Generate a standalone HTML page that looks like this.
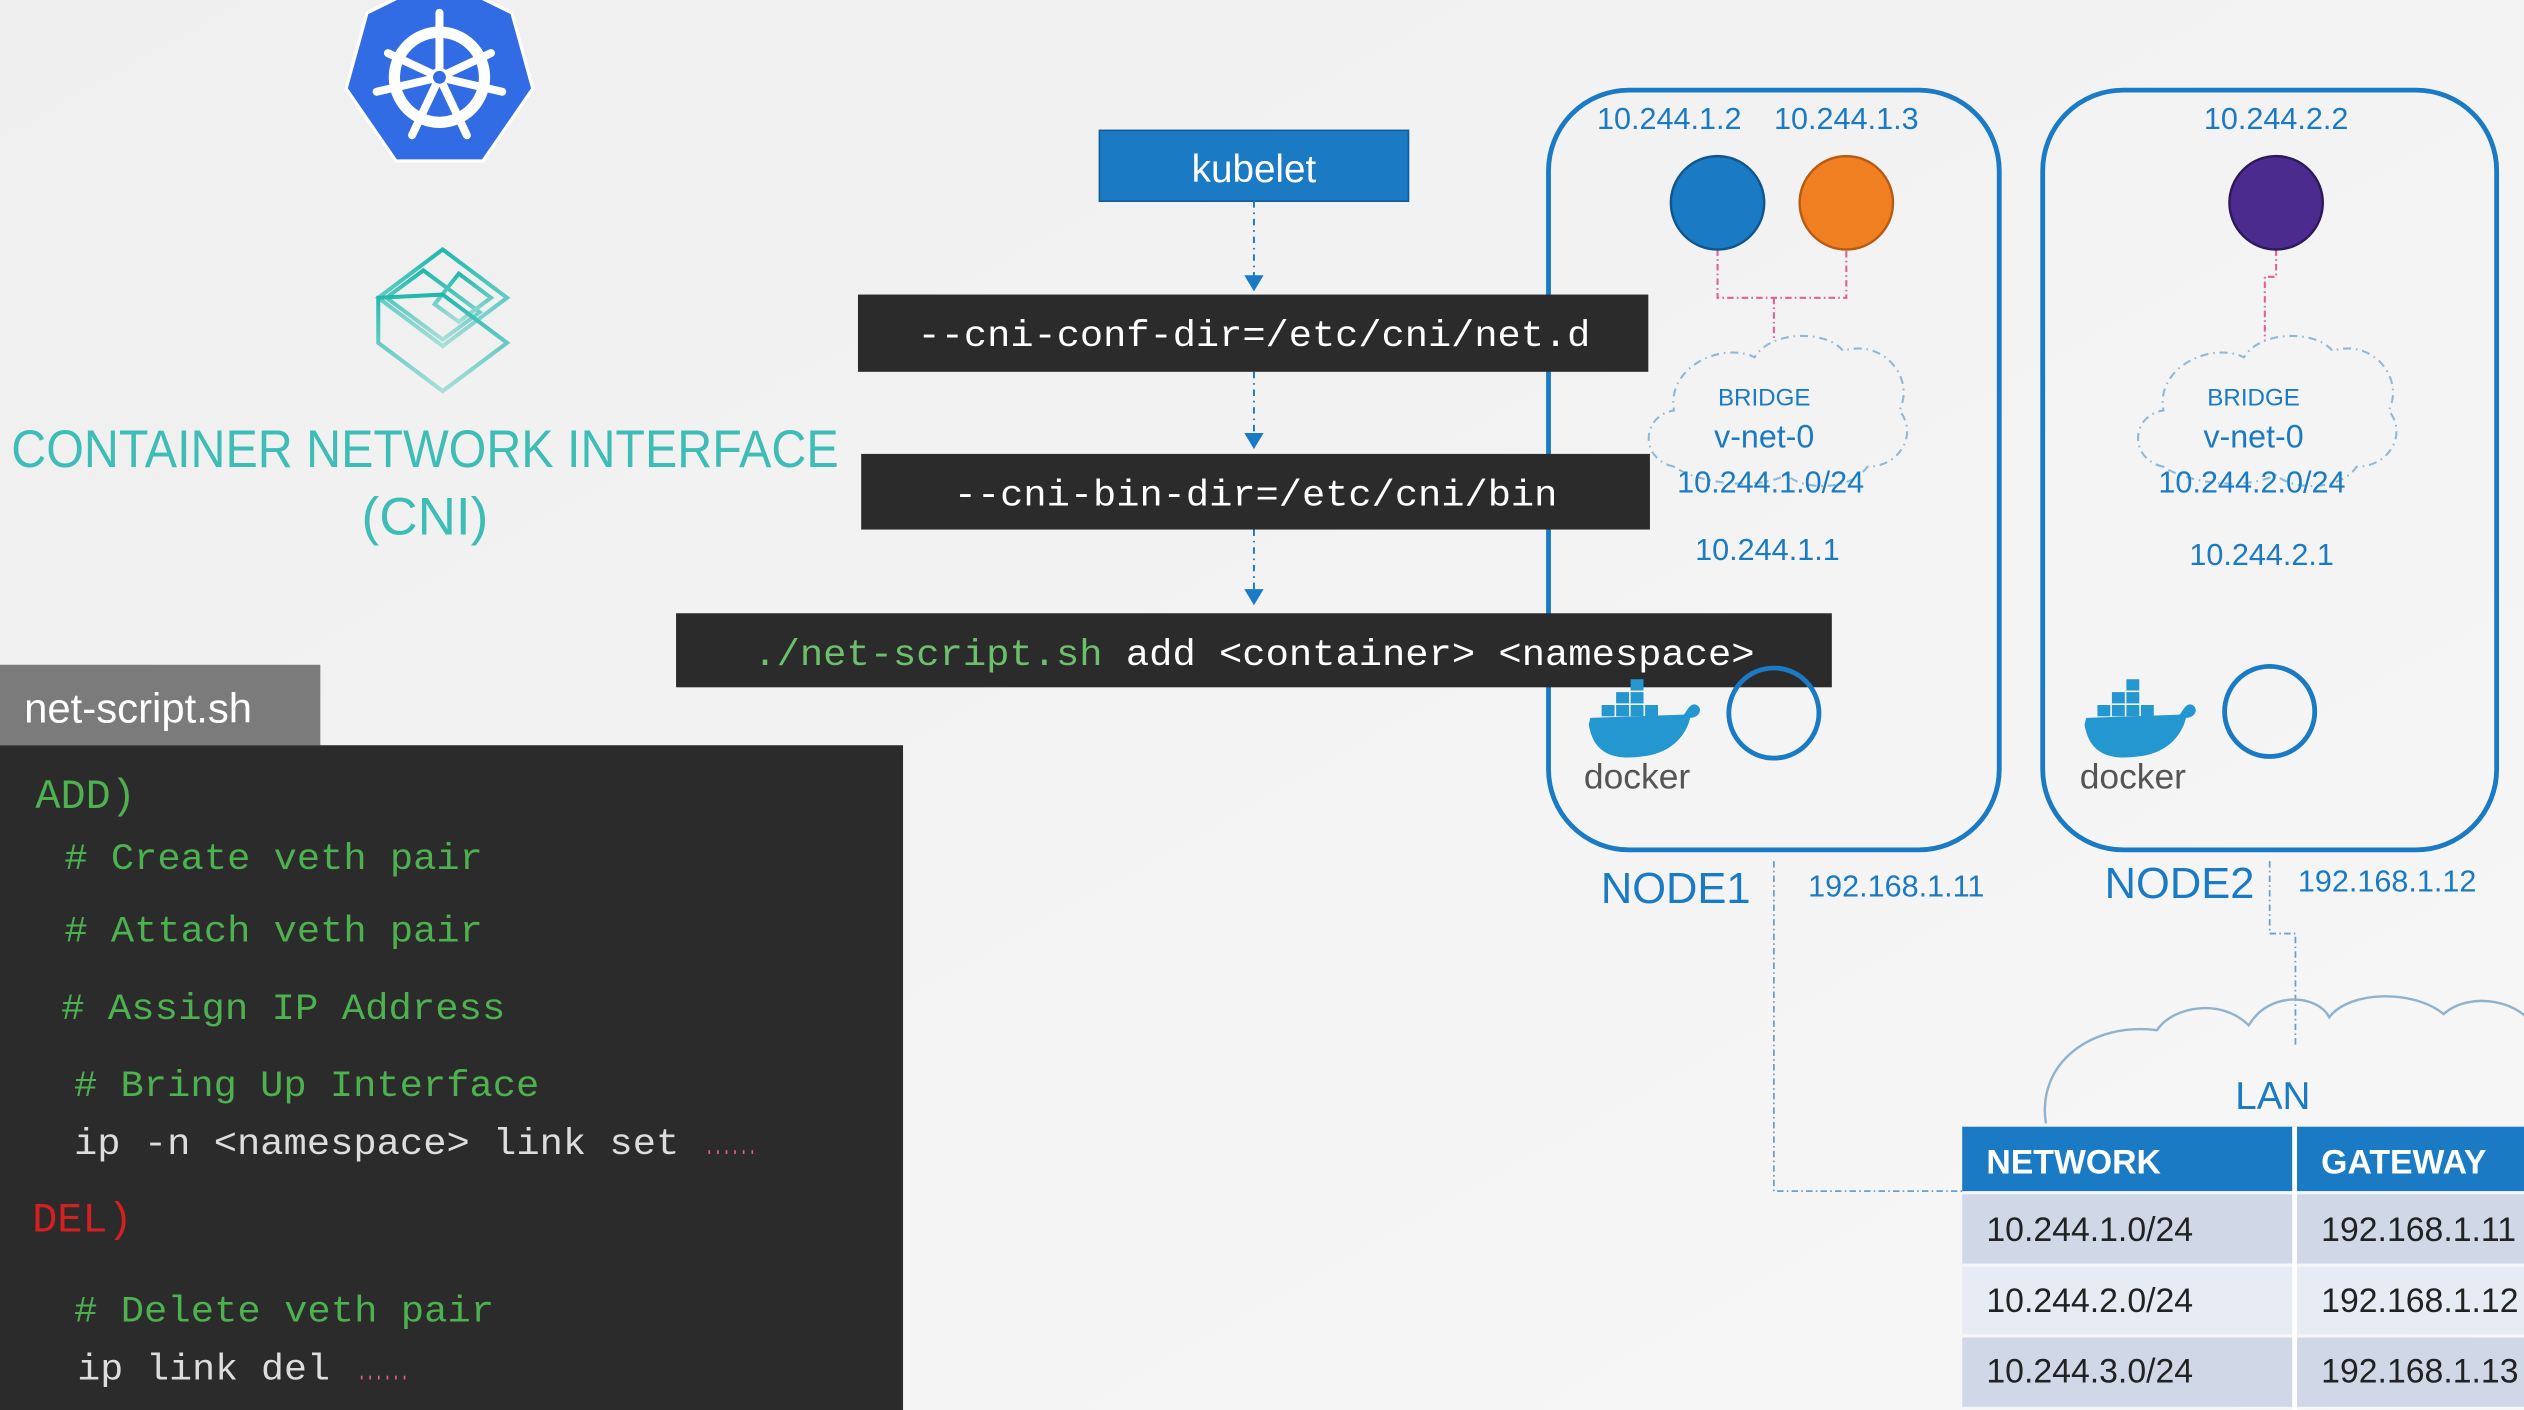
<!DOCTYPE html>
<html><head><meta charset="utf-8"><style>
html,body{margin:0;padding:0;background:#f1f1f1;}
svg{display:block;}
</style></head><body>
<svg width="2524" height="1410" viewBox="0 0 1568 876" preserveAspectRatio="none" xmlns="http://www.w3.org/2000/svg" font-family="Liberation Sans, sans-serif">
<defs>
<linearGradient id="bg" x1="0" y1="0" x2="1" y2="1"><stop offset="0" stop-color="#efefef"/><stop offset="1" stop-color="#f7f7f7"/></linearGradient>
<linearGradient id="tg" x1="0" y1="0" x2="0" y2="1"><stop offset="0" stop-color="#1fb8ad"/><stop offset="1" stop-color="#a9ded8"/></linearGradient>
</defs>
<rect width="1568" height="876" fill="url(#bg)"/>

<!-- k8s logo -->
<polygon points="273,-14 318,8 331,55 300,100 246,100 215,55 228,8" fill="#326ce5" stroke="#fff" stroke-width="2"/>
<g stroke="#fff" fill="none" stroke-linecap="round">
<circle cx="273" cy="48" r="28" stroke-width="7"/>
<g stroke-width="5">
<line x1="273" y1="48" x2="273" y2="8"/>
<line x1="273" y1="48" x2="305" y2="33"/>
<line x1="273" y1="48" x2="312" y2="57"/>
<line x1="273" y1="48" x2="290" y2="84"/>
<line x1="273" y1="48" x2="256" y2="84"/>
<line x1="273" y1="48" x2="234" y2="57"/>
<line x1="273" y1="48" x2="241" y2="33"/>
</g></g>
<circle cx="273" cy="48" r="5" fill="#326ce5" stroke="#fff" stroke-width="2"/>

<!-- CNI logo -->
<g fill="none" stroke="url(#tg)" stroke-width="2.5">
<polygon points="275,155 315,185 275,215 235,185"/>
<polygon points="263,168 298,194 275,211 240,185"/>
<polygon points="285,170 305,185 285,200 270,189"/>
<polygon points="235,185 235,213 275,243 315,213 275,183"/>
</g>
<text x="264" y="290" text-anchor="middle" font-size="33" fill="#3dbdb5" textLength="514" lengthAdjust="spacingAndGlyphs">CONTAINER NETWORK INTERFACE</text>
<text x="264" y="332" text-anchor="middle" font-size="33" fill="#3dbdb5">(CNI)</text>

<!-- nodes (behind command boxes) -->
<rect x="962" y="56" width="280" height="472" rx="50" fill="none" stroke="#1a7ac4" stroke-width="3"/>
<rect x="1269" y="56" width="282" height="472" rx="50" fill="none" stroke="#1a7ac4" stroke-width="3"/>

<!-- kubelet flow -->
<rect x="683" y="81" width="192" height="44" fill="#1a7ac4" stroke="#0f5c99" stroke-width="1"/>
<text x="779" y="113" text-anchor="middle" font-size="24" fill="#fff">kubelet</text>
<g stroke="#1a7ac4" stroke-width="1.2" stroke-dasharray="4,3,1,3" fill="none">
<line x1="779" y1="125" x2="779" y2="172"/>
<line x1="779" y1="231" x2="779" y2="270"/>
<line x1="779" y1="329" x2="779" y2="368"/>
</g>
<g fill="#1a7ac4">
<polygon points="773,171 785,171 779,181"/>
<polygon points="773,269 785,269 779,279"/>
<polygon points="773,366 785,366 779,376"/>
</g>
<rect x="533" y="183" width="491" height="48" fill="#2b2b2b"/>
<text x="779" y="215" text-anchor="middle" font-family="Liberation Mono, monospace" font-size="23" fill="#fff" textLength="418" lengthAdjust="spacingAndGlyphs">--cni-conf-dir=/etc/cni/net.d</text>
<rect x="535" y="282" width="490" height="47" fill="#2b2b2b"/>
<text x="780" y="314" text-anchor="middle" font-family="Liberation Mono, monospace" font-size="23" fill="#fff" textLength="375" lengthAdjust="spacingAndGlyphs">--cni-bin-dir=/etc/cni/bin</text>
<rect x="420" y="381" width="718" height="46" fill="#2b2b2b"/>
<text x="468" y="413" font-family="Liberation Mono, monospace" font-size="23" textLength="622" lengthAdjust="spacingAndGlyphs"><tspan fill="#6cc06c">./net-script.sh</tspan><tspan fill="#fff"> add &lt;container&gt; &lt;namespace&gt;</tspan></text>

<g font-size="19" fill="#1a7ac4" text-anchor="middle">
<text x="1037" y="80">10.244.1.2</text>
<text x="1147" y="80">10.244.1.3</text>
<text x="1414" y="80">10.244.2.2</text>
</g>
<g stroke="#e0609a" stroke-width="1.3" stroke-dasharray="4,2,1,2" fill="none">
<polyline points="1067,155 1067,185 1147,185 1147,155"/>
<line x1="1102" y1="185" x2="1102" y2="212"/>
<polyline points="1414,155 1414,172 1407,172 1407,212"/>
</g>
<circle cx="1067" cy="126" r="29" fill="#1a7ac4" stroke="#10558c" stroke-width="1.5"/>
<circle cx="1147" cy="126" r="29" fill="#f07f22" stroke="#b85b12" stroke-width="1.5"/>
<circle cx="1414" cy="126" r="29" fill="#4b2b8e" stroke="#2c1a5a" stroke-width="1.5"/>

<!-- bridge clouds -->
<g fill="none" stroke="#8fb9d8" stroke-width="1.3" stroke-dasharray="5,3,1,3">
<path d="M1040,290 C1018,285 1020,258 1040,255 C1035,228 1070,212 1090,222 C1100,205 1135,205 1145,218 C1170,210 1190,235 1180,255 C1192,270 1180,290 1160,290 C1150,305 1120,305 1110,295 C1090,305 1055,300 1040,290 Z"/>
<path d="M1344,290 C1322,285 1324,258 1344,255 C1339,228 1374,212 1394,222 C1404,205 1439,205 1449,218 C1474,210 1494,235 1484,255 C1496,270 1484,290 1464,290 C1454,305 1424,305 1414,295 C1394,305 1359,300 1344,290 Z"/>
</g>
<g fill="#1a7ac4" text-anchor="middle">
<text x="1096" y="252" font-size="15">BRIDGE</text>
<text x="1096" y="278" font-size="20">v-net-0</text>
<text x="1100" y="306" font-size="19">10.244.1.0/24</text>
<text x="1098" y="348" font-size="19">10.244.1.1</text>
<text x="1400" y="252" font-size="15">BRIDGE</text>
<text x="1400" y="278" font-size="20">v-net-0</text>
<text x="1399" y="306" font-size="19">10.244.2.0/24</text>
<text x="1405" y="351" font-size="19">10.244.2.1</text>
</g>

<!-- docker -->
<g>
<path d="M987,450 C990,470 1005,472 1020,470 C1040,468 1048,455 1050,446 C1056,446 1058,440 1054,438 C1050,436 1048,442 1046,444 L988,446 Z" fill="#2496d0"/>
<g fill="#2496d0"><rect x="995" y="438" width="8" height="7"/><rect x="1004" y="438" width="8" height="7"/><rect x="1013" y="438" width="8" height="7"/><rect x="1022" y="438" width="8" height="7"/><rect x="1004" y="430" width="8" height="7"/><rect x="1013" y="430" width="8" height="7"/><rect x="1013" y="422" width="8" height="7"/></g>
<text x="1017" y="490" text-anchor="middle" font-size="22" fill="#555">docker</text>
<path d="M1295,450 C1298,470 1313,472 1328,470 C1348,468 1356,455 1358,446 C1364,446 1366,440 1362,438 C1358,436 1356,442 1354,444 L1296,446 Z" fill="#2496d0"/>
<g fill="#2496d0"><rect x="1303" y="438" width="8" height="7"/><rect x="1312" y="438" width="8" height="7"/><rect x="1321" y="438" width="8" height="7"/><rect x="1330" y="438" width="8" height="7"/><rect x="1312" y="430" width="8" height="7"/><rect x="1321" y="430" width="8" height="7"/><rect x="1321" y="422" width="8" height="7"/></g>
<text x="1325" y="490" text-anchor="middle" font-size="22" fill="#555">docker</text>
</g>
<circle cx="1102" cy="443" r="28" fill="none" stroke="#1a7ac4" stroke-width="3"/>
<circle cx="1410" cy="442" r="28" fill="none" stroke="#1a7ac4" stroke-width="3"/>

<g fill="#1a7ac4">
<text x="1041" y="561" text-anchor="middle" font-size="27">NODE1</text>
<text x="1178" y="557" text-anchor="middle" font-size="19">192.168.1.11</text>
<text x="1354" y="558" text-anchor="middle" font-size="27">NODE2</text>
<text x="1483" y="554" text-anchor="middle" font-size="19">192.168.1.12</text>
</g>
<g stroke="#6a9fcc" stroke-width="1.1" stroke-dasharray="4,2,1,2" fill="none">
<polyline points="1102,535 1102,740 1219,740"/>
<polyline points="1410,535 1410,580 1426,580 1426,650"/>
</g>

<!-- LAN cloud -->
<path d="M1271,698 C1265,660 1300,635 1340,640 C1350,625 1380,620 1397,637 C1410,615 1440,618 1447,632 C1460,615 1500,615 1518,630 C1535,615 1568,622 1575,640" fill="none" stroke="#8fb2cf" stroke-width="1.5"/>
<text x="1412" y="689" text-anchor="middle" font-size="24" fill="#1a7ac4">LAN</text>

<!-- table -->
<rect x="1219" y="700" width="360" height="40" fill="#1a7ac4"/>
<rect x="1219" y="742" width="360" height="43" fill="#d0d8e8"/>
<rect x="1219" y="787" width="360" height="42" fill="#e7ecf4"/>
<rect x="1219" y="831" width="360" height="43" fill="#d0d8e8"/>
<rect x="1424" y="700" width="3" height="176" fill="#fff"/>
<g font-size="21">
<text x="1234" y="729" fill="#fff" font-weight="bold">NETWORK</text>
<text x="1442" y="729" fill="#fff" font-weight="bold">GATEWAY</text>
<text x="1234" y="771" fill="#222">10.244.1.0/24</text>
<text x="1442" y="771" fill="#222">192.168.1.11</text>
<text x="1234" y="815" fill="#222">10.244.2.0/24</text>
<text x="1442" y="815" fill="#222">192.168.1.12</text>
<text x="1234" y="859" fill="#222">10.244.3.0/24</text>
<text x="1442" y="859" fill="#222">192.168.1.13</text>
</g>

<!-- net-script panel -->
<rect x="0" y="413" width="199" height="50" fill="#7b7b7b"/>
<text x="15" y="449" font-size="26" fill="#fff">net-script.sh</text>
<rect x="0" y="463" width="561" height="413" fill="#2b2b2b"/>
<g font-family="Liberation Mono, monospace" font-size="23">
<text x="22" y="502" fill="#4db14f" font-size="26">ADD)</text>
<text x="40" y="540" fill="#4db14f" textLength="260" lengthAdjust="spacingAndGlyphs"># Create veth pair</text>
<text x="40" y="585" fill="#4db14f" textLength="260" lengthAdjust="spacingAndGlyphs"># Attach veth pair</text>
<text x="38" y="633" fill="#4db14f" textLength="276" lengthAdjust="spacingAndGlyphs"># Assign IP Address</text>
<text x="46" y="681" fill="#4db14f" textLength="289" lengthAdjust="spacingAndGlyphs"># Bring Up Interface</text>
<text x="46" y="717" fill="#dddddd" textLength="376" lengthAdjust="spacingAndGlyphs">ip -n &lt;namespace&gt; link set</text>
<text x="438" y="717" fill="#e0609a" font-size="16" textLength="32" lengthAdjust="spacingAndGlyphs">......</text>
<text x="20" y="765" fill="#d42020" font-size="26">DEL)</text>
<text x="46" y="821" fill="#4db14f" textLength="261" lengthAdjust="spacingAndGlyphs"># Delete veth pair</text>
<text x="48" y="857" fill="#dddddd" textLength="157" lengthAdjust="spacingAndGlyphs">ip link del</text>
<text x="222" y="857" fill="#e0609a" font-size="16" textLength="32" lengthAdjust="spacingAndGlyphs">......</text>
</g>
</svg>
</body></html>
